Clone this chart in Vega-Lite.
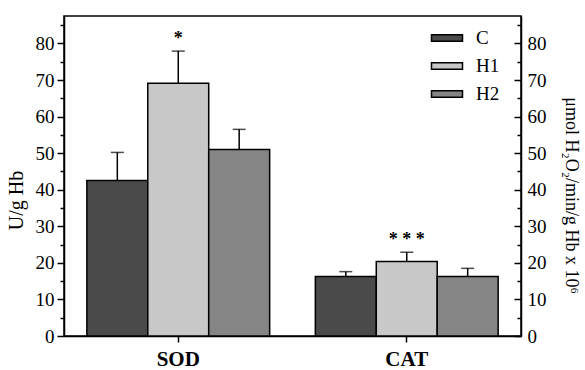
{
  "$schema": "https://vega.github.io/schema/vega-lite/v6.json",
  "width": 457,
  "height": 320,
  "autosize": "none",
  "padding": {"left": 64, "top": 16, "right": 64, "bottom": 34},
  "background": "white",
  "config": {
    "font": "Liberation Serif",
    "view": {"stroke": "black", "strokeWidth": 1.5},
    "axis": {
      "domainColor": "black", "domainWidth": 1.5,
      "tickColor": "black", "tickWidth": 1.5,
      "labelColor": "black", "titleColor": "black",
      "labelFont": "Liberation Serif", "titleFont": "Liberation Serif",
      "labelOverlap": false, "labelBound": false,
      "grid": false
    },
    "legend": {"labelFont": "Liberation Serif", "labelColor": "black"}
  },
  "data": {
    "values": [
      {"group": "SOD", "series": "C", "value": 42.5, "upper": 50.2, "sig": ""},
      {"group": "SOD", "series": "H1", "value": 69.1, "upper": 77.9, "sig": "*"},
      {"group": "SOD", "series": "H2", "value": 51.0, "upper": 56.5, "sig": ""},
      {"group": "CAT", "series": "C", "value": 16.3, "upper": 17.6, "sig": ""},
      {"group": "CAT", "series": "H1", "value": 20.4, "upper": 22.9, "sig": "* * *"},
      {"group": "CAT", "series": "H2", "value": 16.3, "upper": 18.5, "sig": ""}
    ]
  },
  "encoding": {
    "x": {
      "field": "group", "type": "nominal", "sort": ["SOD", "CAT"],
      "scale": {"paddingInner": 0.2, "paddingOuter": 0.1},
      "axis": {
        "title": null, "labelAngle": 0, "labelFontSize": 21, "labelFontWeight": "bold",
        "tickSize": 6, "labelPadding": 6
      }
    },
    "xOffset": {
      "field": "series", "type": "nominal", "sort": ["C", "H1", "H2"],
      "scale": {"paddingInner": 0, "paddingOuter": 0}
    }
  },
  "layer": [
    {
      "encoding": {
        "y": {
          "field": "value", "type": "quantitative",
          "scale": {"domain": [0, 87.5], "nice": false},
          "axis": {
            "orient": "left",
            "values": [0, 5, 10, 15, 20, 25, 30, 35, 40, 45, 50, 55, 60, 65, 70, 75, 80, 85],
            "labelExpr": "datum.value % 10 === 0 ? datum.label : ''",
            "tickSize": {"condition": {"test": "datum.value % 10 === 0", "value": 7}, "value": 4},
            "labelPadding": 3,
            "labelFontSize": 19,
            "title": "U/g Hb",
            "titleFontSize": 20, "titleFontWeight": "normal",
            "titleAngle": -90, "titleAlign": "center", "titleBaseline": "middle",
            "titleX": -48, "titleY": 184
          }
        }
      },
      "layer": [
        {
          "mark": {"type": "bar", "stroke": "black", "strokeWidth": 1.5},
          "encoding": {
            "fill": {
              "field": "series", "type": "nominal",
              "scale": {"domain": ["C", "H1", "H2"], "range": ["#4a4a4a", "#c8c8c8", "#858585"]},
              "legend": {
                "title": null, "orient": "none", "legendX": 372, "legendY": 11,
                "symbolType": "M-1.55,-0.33H1.55V0.33H-1.55Z", "symbolSize": 400,
                "symbolStrokeColor": "black", "symbolStrokeWidth": 1.5,
                "labelFontSize": 19, "labelOffset": 18, "rowPadding": 7
              }
            }
          }
        },
        {
          "mark": {"type": "rule", "color": "black", "strokeWidth": 1.5},
          "encoding": {
            "y2": {"field": "upper"}
          }
        }
      ]
    },
    {
      "encoding": {
        "y": {
          "field": "upper", "type": "quantitative",
          "scale": {"domain": [0, 87.5], "nice": false},
          "axis": {
            "orient": "right",
            "values": [0, 5, 10, 15, 20, 25, 30, 35, 40, 45, 50, 55, 60, 65, 70, 75, 80, 85],
            "labelExpr": "datum.value % 10 === 0 ? datum.label : ''",
            "tickSize": {"condition": {"test": "datum.value % 10 === 0", "value": -7}, "value": -4},
            "labelPadding": 13,
            "labelFontSize": 19,
            "title": "μmol H₂O₂/min/g Hb x 10⁶",
            "titleFontSize": 18, "titleFontWeight": "normal",
            "titleAngle": 90, "titleAlign": "center", "titleBaseline": "middle",
            "titleX": 49, "titleY": 179
          }
        }
      },
      "layer": [
        {
          "mark": {"type": "tick", "color": "black", "thickness": 1.5, "size": 13}
        },
        {
          "transform": [{"filter": "datum.sig != ''"}],
          "mark": {"type": "text", "fontSize": 18, "fontWeight": "bold", "baseline": "middle", "dy": -12, "color": "black"},
          "encoding": {
            "text": {"field": "sig"}
          }
        }
      ]
    }
  ],
  "resolve": {"scale": {"y": "independent"}}
}
